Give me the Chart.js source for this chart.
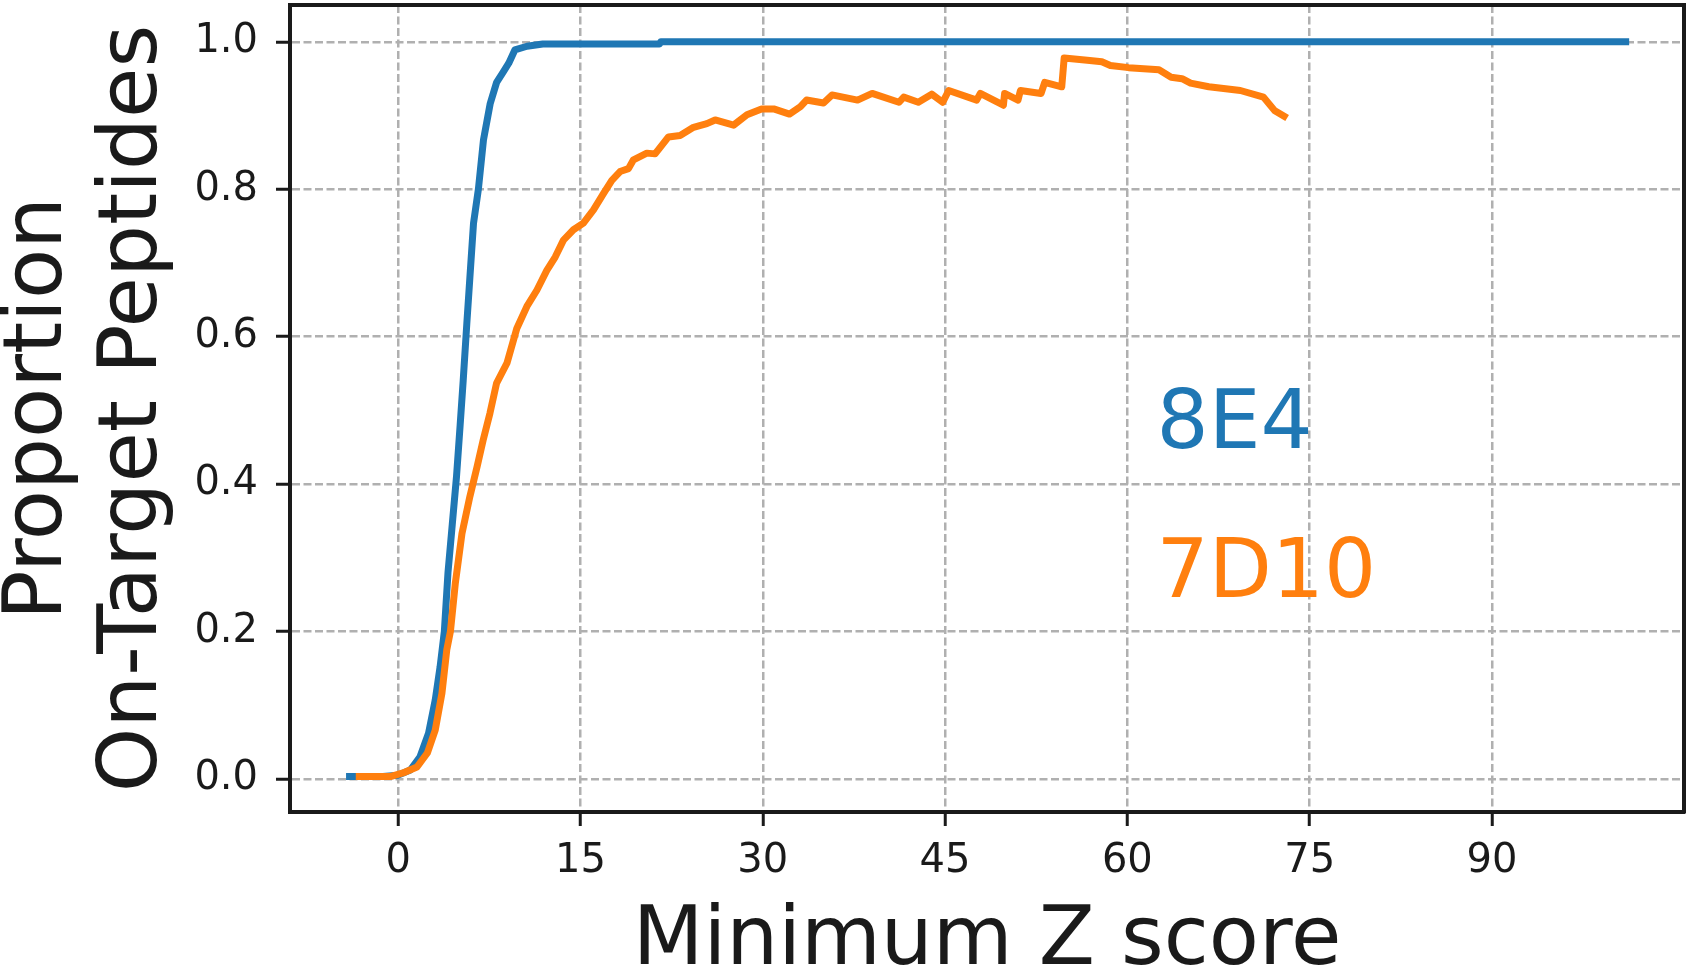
<!DOCTYPE html>
<html>
<head>
<meta charset="utf-8">
<title>Proportion On-Target Peptides</title>
<script src="https://cdn.jsdelivr.net/npm/chart.js@4.4.1/dist/chart.umd.min.js"></script>
<style>
    html, body { margin: 0; padding: 0; background: #fff; }
    #zscore-wrapper { width: 1691px; height: 969px; }
</style>
</head>
<body>
<div id="zscore-wrapper">
    <canvas id="zscore-chart" width="1691" height="969"></canvas>
</div>

<script>
// ticks
const xTicks = [0, 15, 30, 45, 60, 75, 90];
const yTicks = [0, 0.2, 0.4, 0.6, 0.8, 1.0];

// 8E4
const z8E4 = [-4, -3.3, -1.5, 0, 1.0, 1.8, 2.5, 3.05, 3.45, 3.8, 4.1, 4.45, 4.8, 5.1, 5.35, 5.65, 5.9, 6.2, 6.6, 7.02, 7.57, 8.1, 8.6, 9.1, 9.6, 10.6, 11.9, 21.5, 21.6, 101];
const p8E4 = [0.003, 0.003, 0.003, 0.005, 0.012, 0.03, 0.062, 0.107, 0.152, 0.2, 0.28, 0.345, 0.41, 0.48, 0.54, 0.618, 0.68, 0.754, 0.80, 0.867, 0.916, 0.945, 0.958, 0.971, 0.989, 0.994, 0.997, 0.997, 1.0, 1.0];

// 7D10
const z7D10 = [-3.2, -0.65, 0.4, 1.55, 2.4, 3.05, 3.6, 4.0, 4.3, 4.7, 5.25, 5.9, 6.5, 7.0, 7.55, 8.1, 8.95, 9.76, 10.59, 11.41,
    12.23, 12.92, 13.6, 14.42, 15.24, 16.07, 16.89, 17.58, 18.26, 18.95, 19.36, 20.46, 21.14, 22.24, 23.2, 24.3, 25.4, 26.08, 27.6, 28.7,
    29.9, 30.9, 32.2, 33.1, 33.6, 35.0, 35.7, 37.8, 39.0, 41.2, 41.6, 42.8, 43.9, 44.8, 45.3, 47.6, 47.9, 49.8, 49.9, 51.0,
    51.2, 52.9, 53.2, 54.6, 54.8, 56.7, 57.9, 58.6, 60.1, 62.6, 63.6, 64.5, 65.2, 66.7, 69.3, 71.2, 72.1, 72.9];
const p7D10 = [0.003, 0.003, 0.008, 0.016, 0.035, 0.066, 0.116, 0.175, 0.2, 0.265, 0.333, 0.383, 0.424, 0.46, 0.496, 0.537, 0.564, 0.611, 0.641, 0.663,
    0.69, 0.708, 0.731, 0.745, 0.754, 0.772, 0.794, 0.812, 0.824, 0.828, 0.84, 0.849, 0.848, 0.871, 0.873, 0.884, 0.889, 0.894, 0.887, 0.901,
    0.909, 0.909, 0.902, 0.912, 0.921, 0.917, 0.928, 0.921, 0.93, 0.918, 0.925, 0.918, 0.929, 0.918, 0.934, 0.921, 0.93, 0.914, 0.93, 0.921,
    0.934, 0.93, 0.945, 0.939, 0.978, 0.975, 0.973, 0.968, 0.965, 0.962, 0.952, 0.95, 0.944, 0.939, 0.934, 0.925, 0.907, 0.899];

const seriesNames = ['8E4', '7D10'];
const seriesColors = ['#1f77b4', '#ff7f0e'];
// where the names sit, in data units (left edge, baseline)
const nameAnchors = [[62.4, 0.449], [62.4, 0.247]];

const ink = '#1a1a1a';
const gridGrey = '#b0b0b0';

function toPoints(xs, ys) {
    return xs.map((v, i) => ({x: v, y: ys[i]}));
}

// fixed axis sizes so the plot box lands where the figure has it
function fixSize(size) {
    return function (s) {
        if (s.isHorizontal()) s.height = size; else s.width = size;
        s.paddingTop = 0; s.paddingBottom = 0; s.paddingLeft = 0; s.paddingRight = 0;
    };
}

const seriesNamesPlugin = {
    id: 'seriesNames',
    afterDatasetsDraw(chart) {
        const {ctx, scales: {x, y}} = chart;
        ctx.save();
        ctx.font = '82px "DejaVu Sans"';
        ctx.textAlign = 'left';
        ctx.textBaseline = 'alphabetic';
        seriesNames.forEach(function (name, i) {
            ctx.fillStyle = seriesColors[i];
            ctx.fillText(name, x.getPixelForValue(nameAnchors[i][0]), y.getPixelForValue(nameAnchors[i][1]));
        });
        ctx.restore();
    }
};

Chart.defaults.font.family = '"DejaVu Sans", sans-serif';
Chart.defaults.color = ink;

const frameAxis = {
    type: 'linear',
    min: 0,
    max: 1,
    ticks: {display: false},
    grid: {drawOnChartArea: false, drawTicks: false},
    border: {display: true, color: ink, width: 4}
};

const gridStyle = {color: gridGrey, lineWidth: 2.5, tickLength: 14, tickColor: ink, tickWidth: 3, tickBorderDash: []};
const borderStyle = {color: ink, width: 4, dash: [8, 3.5]};

const ctx = document.getElementById('zscore-chart').getContext('2d');
const zChart = new Chart(ctx, {
    type: 'line',
    data: {
        datasets: [{
            label: seriesNames[0],
            data: toPoints(z8E4, p8E4),
            borderColor: seriesColors[0],
            borderWidth: 7,
            order: 2
        }, {
            label: seriesNames[1],
            data: toPoints(z7D10, p7D10),
            borderColor: seriesColors[1],
            borderWidth: 7,
            order: 1
        }]
    },
    options: {
        responsive: false,
        animation: false,
        layout: {padding: 0},
        elements: {
            point: {radius: 0},
            line: {tension: 0, borderJoinStyle: 'round', borderCapStyle: 'square', fill: false}
        },
        plugins: {legend: {display: false}, tooltip: {enabled: false}},
        scales: {
            x: {
                type: 'linear',
                position: 'bottom',
                min: -8.9,
                max: 105.8,
                afterBuildTicks: s => { s.ticks = xTicks.map(v => ({value: v})); },
                afterFit: fixSize(157),
                ticks: {font: {size: 40}, padding: 12, maxRotation: 0, callback: v => String(v)},
                grid: gridStyle,
                border: borderStyle,
                title: {display: true, text: 'Minimum Z score', font: {size: 82, lineHeight: 1.15}, padding: {top: 0, bottom: -21}}
            },
            y: {
                type: 'linear',
                position: 'left',
                min: -0.045,
                max: 1.05,
                afterBuildTicks: s => { s.ticks = yTicks.map(v => ({value: v})); },
                afterFit: fixSize(290),
                ticks: {font: {size: 40}, padding: 18, callback: v => v.toFixed(1)},
                grid: gridStyle,
                border: borderStyle,
                title: {display: true, text: ['Proportion', 'On-Target Peptides'], font: {size: 82, lineHeight: 1.15}, padding: {top: -7, bottom: 0}}
            },
            xTop: Object.assign({}, frameAxis, {axis: 'x', position: 'top', afterFit: fixSize(5)}),
            yRight: Object.assign({}, frameAxis, {axis: 'y', position: 'right', afterFit: fixSize(7)})
        }
    },
    plugins: [seriesNamesPlugin]
});
</script>
</body>
</html>
